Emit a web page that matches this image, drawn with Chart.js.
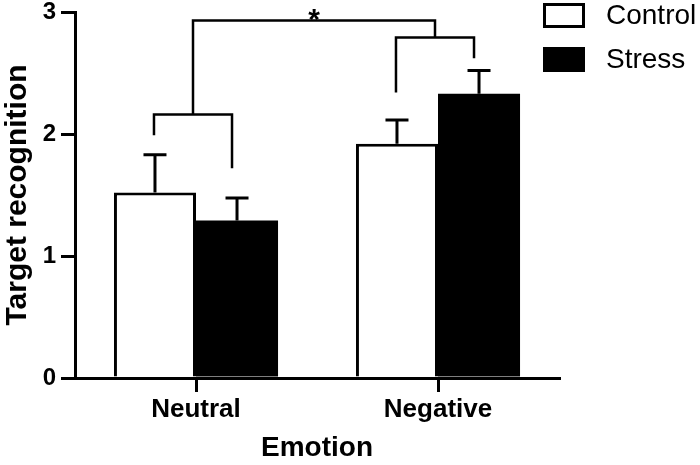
<!DOCTYPE html>
<html>
<head>
<meta charset="utf-8">
<script src="https://cdn.jsdelivr.net/npm/chart.js@4.4.0/dist/chart.umd.min.js"></script>
<style>
  html, body { margin: 0; padding: 0; background: #fff; }
  #wrap { width: 700px; height: 465px; }
</style>
</head>
<body>
<div id="wrap"><canvas id="c" width="700" height="465"></canvas></div>
<script>
// ---- data ----
const categories = ['Neutral', 'Negative'];
const seriesNames = ['Control', 'Stress'];
const controlMeans = [1.52, 1.92];
const stressMeans = [1.29, 2.33];
const controlErr = [0.31, 0.195];
const stressErr = [0.185, 0.19];
const yTickValues = [0, 1, 2, 3];
const xTitle = 'Emotion';
const yTitle = 'Target recognition';
// significance brackets (y values): per category bracket level and leg ends
const bracketLevel = [2.16, 2.79];
const bracketLeftEnd = [1.99, 2.34];
const bracketRightEnd = [1.72, 2.62];
const topBracketLevel = 2.93;
const significanceMark = '*';

const FONT = '"Liberation Sans", Arial, Helvetica, sans-serif';
const errs = [controlErr, stressErr];

const errorBarPlugin = {
  id: 'errorBars',
  afterDatasetsDraw(chart) {
    const ctx = chart.ctx;
    const y = chart.scales.y;
    ctx.save();
    ctx.strokeStyle = '#000';
    ctx.lineWidth = 3;
    chart.data.datasets.forEach((ds, di) => {
      const meta = chart.getDatasetMeta(di);
      meta.data.forEach((bar, i) => {
        const top = y.getPixelForValue(ds.data[i] + errs[di][i]);
        ctx.beginPath();
        ctx.moveTo(bar.x, bar.y);
        ctx.lineTo(bar.x, top);
        ctx.moveTo(bar.x - 11.5, top);
        ctx.lineTo(bar.x + 11.5, top);
        ctx.stroke();
      });
    });
    ctx.restore();
  }
};

const bracketPlugin = {
  id: 'brackets',
  afterDatasetsDraw(chart) {
    const ctx = chart.ctx;
    const y = chart.scales.y;
    const m0 = chart.getDatasetMeta(0), m1 = chart.getDatasetMeta(1);
    ctx.save();
    ctx.strokeStyle = '#000';
    ctx.lineWidth = 2.5;
    ctx.lineCap = 'butt';
    const mids = [];
    categories.forEach((c, i) => {
      const xl = m0.data[i].x - 1;
      const xr = m1.data[i].x - 5;
      const yl = y.getPixelForValue(bracketLevel[i]);
      ctx.beginPath();
      ctx.moveTo(xl, y.getPixelForValue(bracketLeftEnd[i]));
      ctx.lineTo(xl, yl);
      ctx.lineTo(xr, yl);
      ctx.lineTo(xr, y.getPixelForValue(bracketRightEnd[i]));
      ctx.stroke();
      mids.push({ x: (xl + xr) / 2, y: yl });
    });
    const yt = y.getPixelForValue(topBracketLevel);
    ctx.beginPath();
    ctx.moveTo(mids[0].x, mids[0].y);
    ctx.lineTo(mids[0].x, yt);
    ctx.lineTo(mids[1].x, yt);
    ctx.lineTo(mids[1].x, mids[1].y);
    ctx.stroke();
    ctx.fillStyle = '#000';
    ctx.font = 'bold 30px ' + FONT;
    ctx.textAlign = 'center';
    ctx.textBaseline = 'alphabetic';
    ctx.fillText(significanceMark, (mids[0].x + mids[1].x) / 2, yt + 8);
    ctx.restore();
  }
};

const legendPlugin = {
  id: 'customLegend',
  afterDraw(chart) {
    const ctx = chart.ctx;
    ctx.save();
    const bx = 543, bw = 42, bh = 25;
    const tops = [3, 47];
    chart.data.datasets.forEach((ds, i) => {
      const t = tops[i];
      ctx.fillStyle = ds.backgroundColor;
      ctx.fillRect(bx, t, bw, bh);
      ctx.strokeStyle = '#000';
      ctx.lineWidth = 3;
      ctx.strokeRect(bx + 1.5, t + 1.5, bw - 3, bh - 3);
      ctx.fillStyle = '#000';
      ctx.font = '28px ' + FONT;
      ctx.textAlign = 'left';
      ctx.textBaseline = 'middle';
      ctx.fillText(ds.label, 606, t + bh / 2 + 1);
    });
    ctx.restore();
  }
};

new Chart(document.getElementById('c'), {
  type: 'bar',
  data: {
    labels: categories,
    datasets: [
      { label: seriesNames[0], data: controlMeans, backgroundColor: '#ffffff', borderColor: '#000', borderWidth: 3 },
      { label: seriesNames[1], data: stressMeans, backgroundColor: '#000000', borderColor: '#000', borderWidth: 0 }
    ]
  },
  options: {
    responsive: false,
    animation: false,
    events: [],
    devicePixelRatio: 1,
    layout: { padding: { top: 12, right: 141, bottom: 0, left: 0 } },
    datasets: { bar: { barPercentage: 1.0, categoryPercentage: 0.678, borderSkipped: 'bottom' } },
    plugins: { legend: { display: false }, tooltip: { enabled: false } },
    scales: {
      x: {
        grid: { display: true, drawOnChartArea: false, offset: false, drawTicks: true, tickLength: 14, lineWidth: 3, color: '#000' },
        border: { display: true, width: 3, color: '#000' },
        ticks: { color: '#000', font: { family: FONT, size: 26, weight: 'bold' }, padding: 2 },
        title: { display: true, text: xTitle, color: '#000', font: { family: FONT, size: 28, weight: 'bold' }, padding: { top: 0, bottom: 0 } },
        afterFit(s) { s.height = 87; s.paddingLeft = 0; s.paddingRight = 0; }
      },
      y: {
        min: 0, max: 3,
        afterBuildTicks(s) { s.ticks = yTickValues.map(v => ({ value: v })); },
        grid: { display: true, drawOnChartArea: false, drawTicks: true, tickLength: 14, lineWidth: 3, color: '#000' },
        border: { display: true, width: 3, color: '#000' },
        ticks: { color: '#000', font: { family: FONT, size: 24, weight: 'bold' }, padding: 5 },
        title: { display: true, text: yTitle, color: '#000', font: { family: FONT, size: 30, weight: 'bold' }, padding: { top: 0, bottom: 0 } },
        afterFit(s) { s.width = 75; s.paddingTop = 0; s.paddingBottom = 0; }
      }
    }
  },
  plugins: [errorBarPlugin, bracketPlugin, legendPlugin]
});
</script>
</body>
</html>
